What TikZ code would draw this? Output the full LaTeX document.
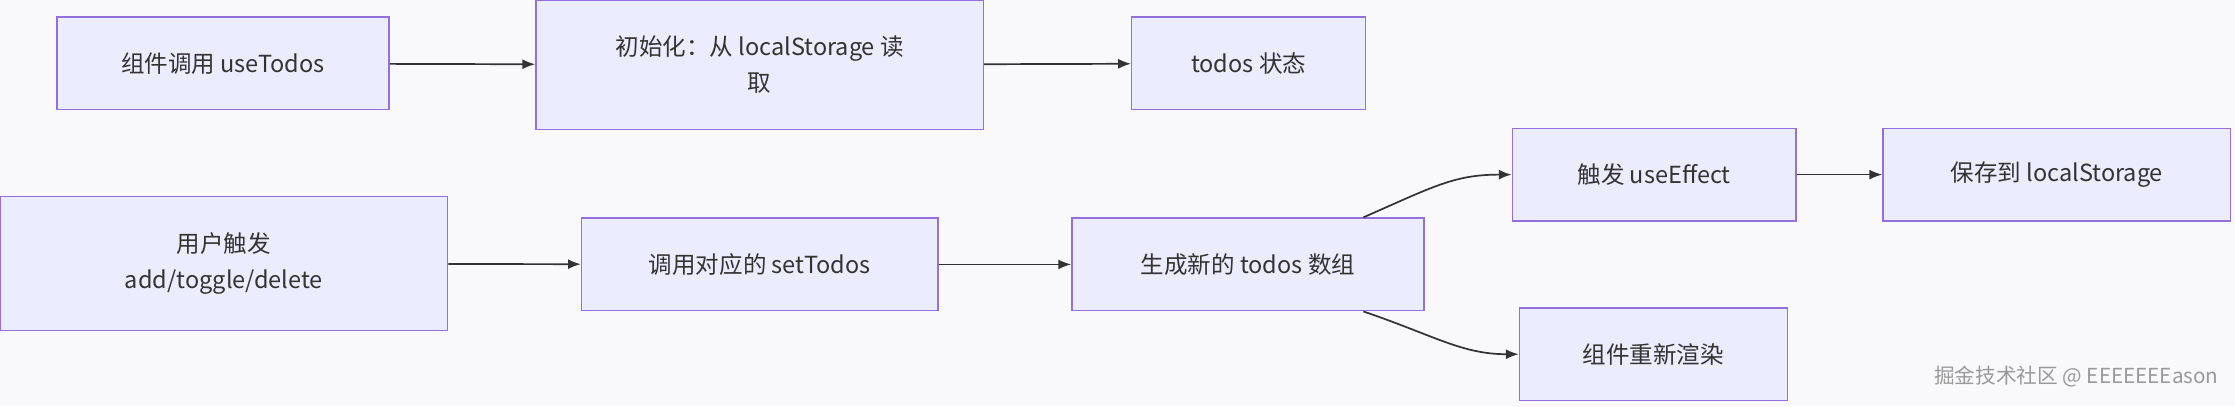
\documentclass[tikz,border=0pt]{standalone}
\usepackage{fontspec}
\setmainfont{Noto Sans CJK SC}
\usetikzlibrary{positioning,arrows.meta}
\definecolor{mmFill}{HTML}{ECECFF}
\definecolor{mmLine}{HTML}{9370DB}
\definecolor{mmEdge}{HTML}{333333}
\definecolor{mmBack}{HTML}{F9F9FB}
\tikzset{
  stage/.style={draw=mmLine, fill=mmFill, line width=1pt, align=center,
    font=\fontsize{16.5}{25}\selectfont, text=mmEdge, inner sep=0pt},
  flow/.style={draw=mmEdge, line width=1.2pt, -{Latex[length=9pt,width=7pt]}}
}
\begin{document}
\begin{tikzpicture}[x=1pt, y=-1pt]

% Background:
\fill[mmBack] (0,0) rectangle (1568,285);
\useasboundingbox (0,0) rectangle (1568,285);

% Stages:
\node[stage, minimum width=233pt, minimum height=65pt] (call)  at (156.5,44.5) {组件调用 useTodos};
\node[stage, minimum width=314pt, minimum height=91pt] (init)  at (533,45.5)   {初始化：从 localStorage 读\\取};
\node[stage, minimum width=164pt, minimum height=65pt] (state) at (876,44.5)   {todos 状态};
\node[stage, minimum width=314pt, minimum height=94pt] (user)  at (157,185)    {用户触发\\add/toggle/delete};
\node[stage, minimum width=250pt, minimum height=65pt] (set)   at (533,185.5)  {调用对应的 setTodos};
\node[stage, minimum width=247pt, minimum height=65pt] (array) at (875.5,185.5){生成新的 todos 数组};
\node[stage, minimum width=199pt, minimum height=65pt] (effect) at (1160.5,122.5) {触发 useEffect};
\node[stage, minimum width=244pt, minimum height=65pt] (save)  at (1443,122.5)  {保存到 localStorage};
\node[stage, minimum width=188pt, minimum height=65pt] (render) at (1160,248.5) {组件重新渲染};

% Connectors:
\draw[flow] (call) -- (init);
\draw[flow] (init) -- (state);
\draw[flow] (user) -- (set);
\draw[flow] (set) -- (array);
\draw[flow] (effect) -- (save);
\draw[flow] ([xshift=81pt]array.north) .. controls +(50,-22) and +(-40,0) .. (effect.west);
\draw[flow] ([xshift=81pt]array.south) .. controls +(50,17) and +(-40,0) .. (render.west);

% Watermark:
\node[text=gray!80, font=\fontsize{14.5}{16}\selectfont, anchor=east] (mark) at (1560,264) {掘金技术社区 @ EEEEEEEason};

\end{tikzpicture}
\end{document}
